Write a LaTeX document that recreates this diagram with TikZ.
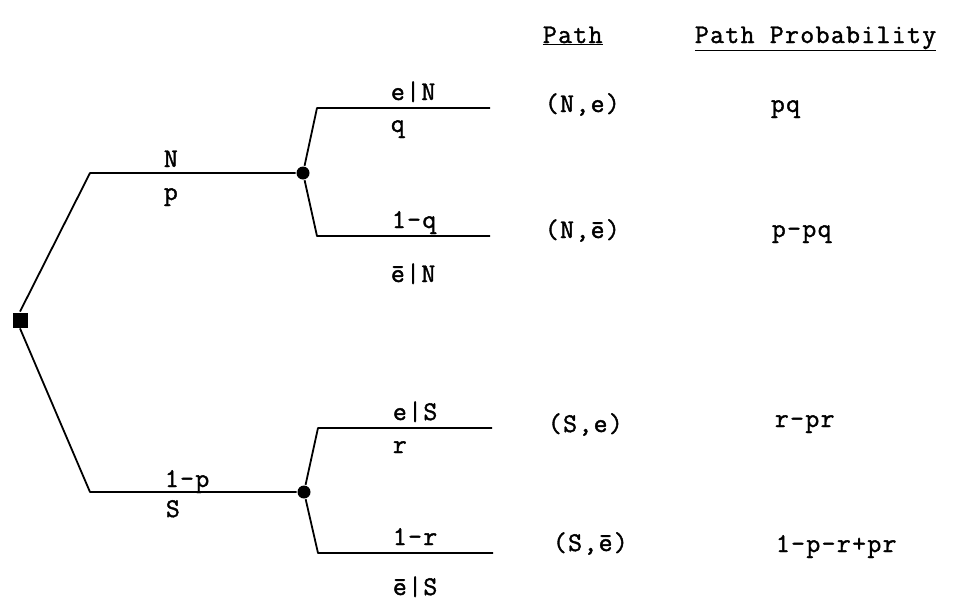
\documentclass[tikz,border=0pt]{standalone}
\usepackage{fontspec}
\newfontfamily\tw[LetterSpace=5,FakeBold=1.5]{Latin Modern Mono}
\begin{document}
\begin{tikzpicture}[x=1pt,y=-1pt,
  font=\tw\fontsize{27}{31}\selectfont,
  line width=1.8pt, line join=round,
  decision/.style={fill=black, draw=none, rectangle, minimum size=15pt, inner sep=0pt},
  chance/.style={fill=black, draw=none, circle, minimum size=13pt, inner sep=0pt},
  lbl/.style={anchor=base west, inner sep=0pt}]
\useasboundingbox (0,0) rectangle (953,603);
% tree nodes
\node[decision] (r) at (20,320) {};
\node[chance] (c1) at (303,173) {};
\node[chance] (c2) at (304,492) {};
\coordinate (a1) at (90,173);
\coordinate (a2) at (90,492);
\coordinate (b1) at (317,108); \coordinate (e1) at (490,108);
\coordinate (b2) at (317,236); \coordinate (e2) at (490,236);
\coordinate (b3) at (318,428); \coordinate (e3) at (492,428);
\coordinate (b4) at (318,553); \coordinate (e4) at (493,553);
\draw (r.north) -- (a1) -- (c1);
\draw (r.south) -- (a2) -- (c2);
\draw (c1) -- (b1) -- (e1);
\draw (c1) -- (b2) -- (e2);
\draw (c2) -- (b3) -- (e3);
\draw (c2) -- (b4) -- (e4);
% branch labels
\node[lbl] (lN) at (163,167) {N};
\node[lbl] (lp) at (163,200) {p};
\node[lbl] (l1p) at (164,487) {1-p};
\node[lbl] (lS) at (165,517) {S};
\node[lbl] (leN) at (390,100) {e|N};
\node[lbl] (lq) at (390,132) {q};
\node[lbl] (l1q) at (391,228) {1-q};
\node[lbl] (lebN) at (390,282) {ē|N};
\node[lbl] (leS) at (392,420) {e|S};
\node[lbl] (lr) at (392,453) {r};
\node[lbl] (l1r) at (392,545) {1-r};
\node[lbl] (lebS) at (392,595) {ē|S};
% headings
\node[lbl] (hpath) at (542,43) {\underline{Path}};
\node[lbl] (hprob) at (694,43) {\underline{Path Probability}};
% paths
\node[lbl] (p1) at (544,112) {(N,e)};
\node[lbl] (p2) at (544,238) {(N,ē)};
\node[lbl] (p3) at (547,432) {(S,e)};
\node[lbl] (p4) at (552,551) {(S,ē)};
% probabilities
\node[lbl] (q1) at (770,112) {pq};
\node[lbl] (q2) at (771,237) {p-pq};
\node[lbl] (q3) at (774,427) {r-pr};
\node[lbl] (q4) at (775,552) {1-p-r+pr};
\end{tikzpicture}
\end{document}
